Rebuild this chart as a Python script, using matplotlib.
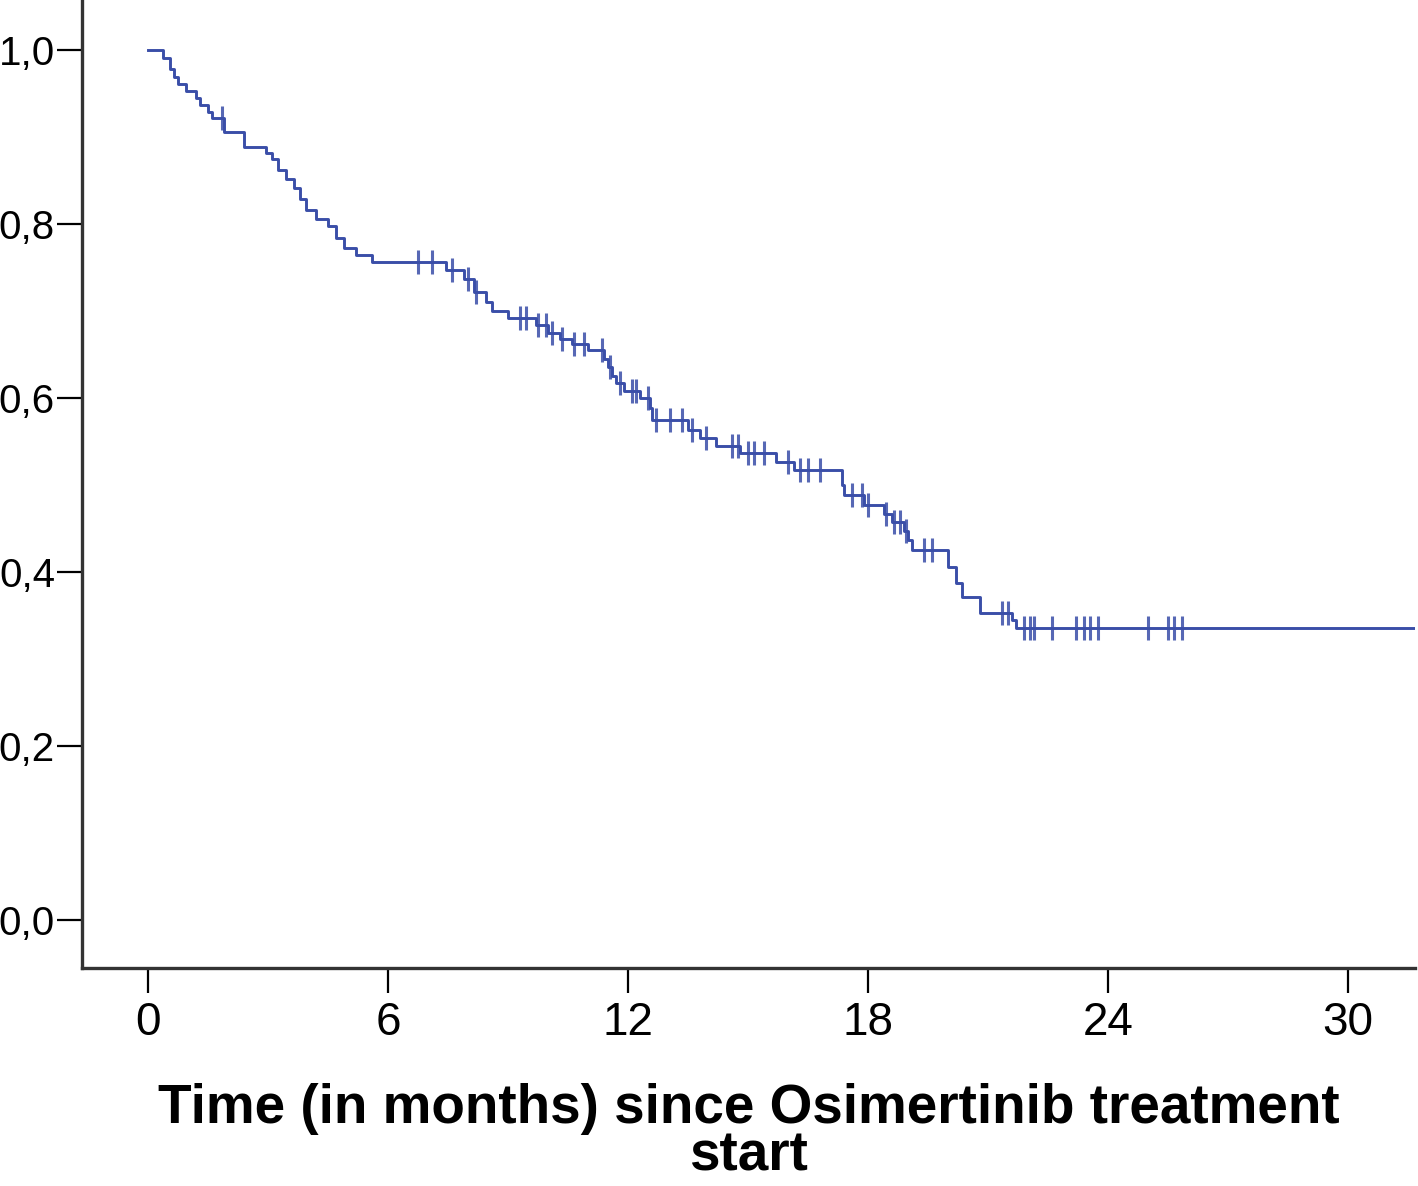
import matplotlib
matplotlib.use("Agg")
import matplotlib.pyplot as plt
from matplotlib import font_manager
import numpy as np

# Kaplan-Meier step curve: event times (months) and survival after each event
event_times = [0, 0.38, 0.55, 0.65, 0.75, 0.95, 1.2, 1.3, 1.5, 1.6, 1.9, 2.4, 2.95, 3.1,
               3.25, 3.45, 3.65, 3.8, 3.95, 4.2, 4.5, 4.7, 4.9, 5.2, 5.6,
               7.45, 7.9, 8.15, 8.45, 8.6, 9.0, 9.7, 10.0, 10.3, 10.6, 11.0, 11.4,
               11.5, 11.6, 11.7, 11.9, 12.3, 12.55, 12.6, 13.5, 13.8, 14.2, 14.8,
               15.7, 16.15, 17.35, 17.4, 17.9, 18.4, 18.6, 18.9, 19.0, 19.1,
               20.0, 20.2, 20.35, 20.8, 21.6, 21.7, 32.0]
survival = [1.0, 0.99, 0.978, 0.968, 0.96, 0.952, 0.944, 0.936, 0.928, 0.922, 0.905, 0.888,
            0.881, 0.874, 0.862, 0.851, 0.841, 0.828, 0.816, 0.805, 0.797, 0.784, 0.772,
            0.764, 0.756,
            0.747, 0.736, 0.722, 0.71, 0.70, 0.692, 0.684, 0.675, 0.668, 0.662, 0.655,
            0.645, 0.635, 0.625, 0.617, 0.608, 0.600, 0.588, 0.575, 0.563, 0.554, 0.545,
            0.537, 0.526, 0.517, 0.500, 0.488, 0.477, 0.466, 0.457, 0.447, 0.437, 0.425,
            0.406, 0.387, 0.371, 0.353, 0.345, 0.336, 0.336]

# censored observations (months)
censor_times = [1.85, 6.75, 7.1, 7.6, 8.0, 8.2, 9.3, 9.45, 9.75, 9.95, 10.1, 10.35, 10.65,
                10.9, 11.35, 11.55, 11.8, 12.1, 12.2, 12.5, 12.7, 13.05, 13.35, 13.6,
                13.95, 14.6, 14.75, 15.0, 15.15, 15.4, 16.0, 16.3, 16.5, 16.8, 17.6,
                17.85, 18.0, 18.45, 18.65, 18.8, 18.95, 19.4, 19.6, 21.35, 21.5, 21.9,
                22.05, 22.15, 22.6, 23.2, 23.4, 23.55, 23.75, 25.0, 25.5, 25.65, 25.85]

x_ticks = [0, 6, 12, 18, 24, 30]
y_ticks = [0.0, 0.2, 0.4, 0.6, 0.8, 1.0]
y_tick_labels = ["0,0", "0,2", "0,4", "0,6", "0,8", "1,0"]

names = {f.name for f in font_manager.fontManager.ttflist}
narrow = "Liberation Sans Narrow" if "Liberation Sans Narrow" in names else "Liberation Sans"

color = "#3a4ea8"
axis_col = "#333333"

fig = plt.figure(figsize=(14.18, 11.86), dpi=100)
ax = fig.add_axes([82 / 1418, 218 / 1186, (1415 - 82) / 1418, 968 / 1186])

ax.step(event_times, survival, where="post", color=color, lw=2.1)

# survival value at each censor time from the step function
idx = np.searchsorted(event_times, censor_times, side="right") - 1
cens_surv = np.array(survival)[idx]
ax.plot(censor_times, cens_surv, ls="none", marker="|", ms=17, mew=2.2, color=color, alpha=0.85)

ax.set_xlim(-1.65, 31.675)
ax.set_ylim(-0.055, 1.057)

ax.set_xticks(x_ticks)
ax.set_xticklabels([str(v) for v in x_ticks], fontfamily=narrow, fontsize=33)
ax.set_yticks(y_ticks)
ax.set_yticklabels(y_tick_labels, fontfamily="Liberation Sans", fontsize=29)

ax.tick_params(axis="x", length=18, width=1.6, pad=6, color="black")
ax.tick_params(axis="y", length=18, width=1.6, pad=1.5, color="black")

for s in ["top", "right"]:
    ax.spines[s].set_visible(False)
for s in ["left", "bottom"]:
    ax.spines[s].set_color(axis_col)
    ax.spines[s].set_linewidth(2.4)

ax.set_xlabel("Time (in months) since Osimertinib treatment\nstart",
              fontfamily="Liberation Sans", fontweight="bold", fontsize=39.5,
              labelpad=27, linespacing=0.88)

fig.savefig("out.png", dpi=100)
